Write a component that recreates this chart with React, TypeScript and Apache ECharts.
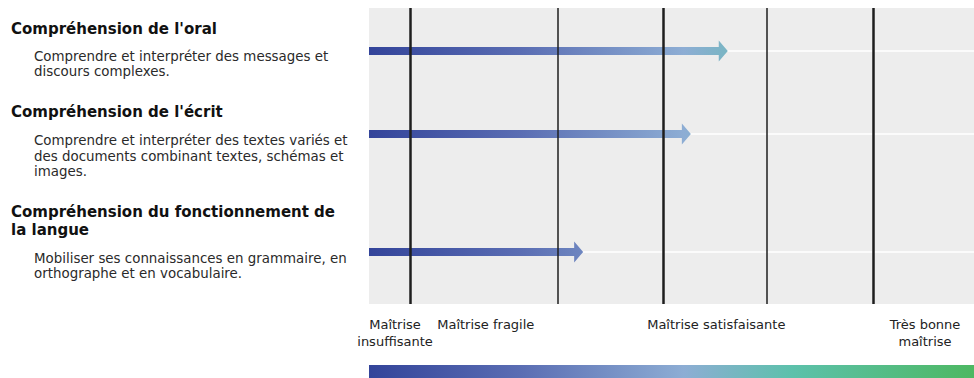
import React, { useEffect, useRef } from "react";
import * as echarts from "echarts";

// ---- data ----
const competences = [
  "Compréhension de l'oral",
  "Compréhension de l'écrit",
  "Compréhension du fonctionnement de\nla langue",
];
const descriptions = [
  "Comprendre et interpréter des messages et\ndiscours complexes.",
  "Comprendre et interpréter des textes variés et\ndes documents combinant textes, schémas et\nimages.",
  "Mobiliser ses connaissances en grammaire, en\northographe et en vocabulaire.",
];
// row positions on the vertical scale (0 = top, 100 = bottom)
const rowPositions = [14.5, 42.6, 82.4];
// arrow lengths on the horizontal scale (0-100)
const arrowValues = [59.3, 53.2, 35.4];
// level thresholds on the horizontal scale
const thresholdValues = [6.8, 31.2, 48.6, 65.8, 83.3];
const thresholdMajor = [true, false, true, false, true];
// level labels and their positions
const levelLabels = ["Maîtrise\ninsuffisante", "Maîtrise fragile", "Maîtrise satisfaisante", "Très bonne\nmaîtrise"];
const levelLabelPositions = [4.3, 19.3, 57.4, 91.9];

const gradientStops = [
  { offset: 0, color: "#33449a" },
  { offset: 0.25, color: "#5a6db3" },
  { offset: 0.52, color: "#8dadd4" },
  { offset: 0.7, color: "#5cc1ab" },
  { offset: 1, color: "#4db862" },
];

const GRID_LEFT = 369;
const GRID_TOP = 8;
const GRID_BOTTOM_Y = 304;
const W = 974;
const H = 378;

const titleTops = [19.5, 102.5, 203];
const descTops = [48.5, 133, 250.5];

export default function App() {
  const ref = useRef<HTMLDivElement>(null);
  useEffect(() => {
    if (!ref.current) return;
    const chart = echarts.init(ref.current, undefined, { renderer: "svg" });

    const graphics: any[] = [];
    competences.forEach((t, i) => {
      graphics.push({
        type: "text",
        left: 11,
        top: titleTops[i],
        style: {
          text: t,
          font: "bold 15px 'DejaVu Sans'",
          fill: "#111",
          lineHeight: 18,
        },
      });
      graphics.push({
        type: "text",
        left: 34,
        top: descTops[i],
        style: {
          text: descriptions[i],
          font: "13.4px 'DejaVu Sans'",
          fill: "#2a2a2a",
          lineHeight: 15.5,
        },
      });
    });
    graphics.push({
      type: "rect",
      shape: { x: GRID_LEFT, y: 365, width: W - GRID_LEFT, height: 13 },
      style: {
        fill: new echarts.graphic.LinearGradient(0, 0, 1, 0, gradientStops),
      },
    });

    const arrowData = arrowValues.map((v, i) => [v, rowPositions[i]]);

    chart.setOption({
      animation: false,
      grid: {
        left: GRID_LEFT,
        right: 0,
        top: GRID_TOP,
        bottom: H - GRID_BOTTOM_Y,
        show: true,
        backgroundColor: "#ededed",
        borderWidth: 0,
      },
      xAxis: {
        type: "value",
        min: 0,
        max: 100,
        splitLine: { show: false },
        axisLine: { show: false },
        axisTick: { show: false },
        axisLabel: {
          customValues: levelLabelPositions,
          hideOverlap: false,
          margin: 12,
          fontFamily: "DejaVu Sans",
          fontSize: 13,
          lineHeight: 17,
          color: "#222",
          formatter: (val: number) => {
            let best = 0;
            let d = Infinity;
            levelLabelPositions.forEach((p, i) => {
              if (Math.abs(p - val) < d) {
                d = Math.abs(p - val);
                best = i;
              }
            });
            return levelLabels[best];
          },
        },
      },
      yAxis: {
        type: "value",
        min: 0,
        max: 100,
        inverse: true,
        show: false,
        splitLine: { show: false },
      },
      series: [
        {
          type: "line",
          data: [],
          z: 1,
          zlevel: 0,
          silent: true,
          markLine: {
            silent: true,
            z: 1,
            symbol: ["none", "none"],
            label: { show: false },
            lineStyle: { color: "#ffffff", width: 1.5, type: "solid" },
            emphasis: { disabled: true },
            data: rowPositions.map((v) => ({ yAxis: v })),
          },
        },
        {
          type: "custom",
          z: 10,
          silent: true,
          data: arrowData,
          renderItem: (params: any, api: any) => {
            const v = api.value(0);
            const r = api.value(1);
            const start = api.coord([0, r]);
            const end = api.coord([v, r]);
            const cs = params.coordSys;
            const h = 4;
            const hh = 10.5;
            const hl = 9;
            const x0 = start[0];
            const xe = end[0];
            const y = end[1];
            return {
              type: "polygon",
              z2: 100,
              shape: {
                points: [
                  [x0, y - h],
                  [xe - hl, y - h],
                  [xe - hl, y - hh],
                  [xe, y],
                  [xe - hl, y + hh],
                  [xe - hl, y + h],
                  [x0, y + h],
                ],
              },
              style: {
                fill: new echarts.graphic.LinearGradient(cs.x, 0, cs.x + cs.width, 0, gradientStops, true),
              },
            };
          },
        },
        {
          type: "line",
          data: [],
          z: 20,
          silent: true,
          markLine: {
            silent: true,
            z: 20,
            symbol: ["none", "none"],
            label: { show: false },
            emphasis: { disabled: true },
            data: thresholdValues.map((v, i) => ({
              xAxis: v,
              lineStyle: {
                color: "#1e1e1e",
                width: thresholdMajor[i] ? 2.5 : 1.5,
                type: "solid",
              },
            })),
          },
        },
      ],
      graphic: graphics,
    });
    return () => chart.dispose();
  }, []);
  return (
    <div
      ref={ref}
      style={{ position: "absolute", left: 0, top: 0, width: W, height: H }}
    />
  );
}
